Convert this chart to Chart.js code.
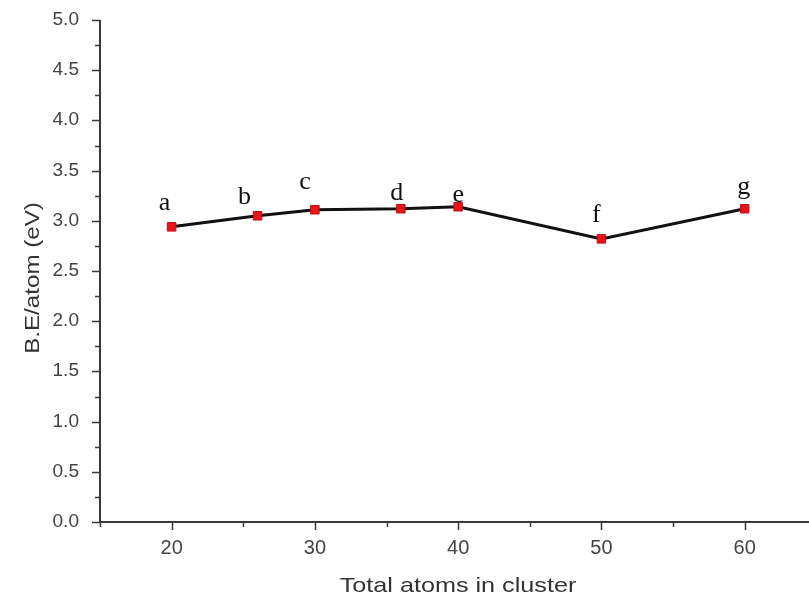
<!DOCTYPE html>
<html lang="en">

<head>
    <meta charset="UTF-8" />
    <script src="https://cdn.jsdelivr.net/npm/chart.js@4.4.0/dist/chart.umd.min.js"></script>
    <title>B.E per atom</title>
    <style>
        html, body { margin: 0; padding: 0; background: #fff; overflow: hidden; }
        canvas { display: block; }
    </style>
</head>

<body>
    <canvas id="chart" width="809" height="601"></canvas>
    <script>
        // values
        let atoms = [20, 26, 30, 36, 40, 50, 60]
        let bindingEnergy = [2.94, 3.05, 3.11, 3.12, 3.14, 2.82, 3.12]
        let pointNames = ['a', 'b', 'c', 'd', 'e', 'f', 'g']
        let xTicks = [20, 30, 40, 50, 60]
        let yTicks = [0, 0.5, 1, 1.5, 2, 2.5, 3, 3.5, 4, 4.5, 5]
        let xTitle = 'Total atoms in cluster'
        let yTitle = 'B.E/atom (eV)'

        // where each letter sits relative to its point
        const nameOffsets = [[-7, -24], [-13, -19], [-10, -28], [-4, -16], [0, -12], [-5, -24], [-1, -22]]

        const axisColor = '#3a3a3a'
        const sans = '"Liberation Sans", Arial, sans-serif'

        // the scanned figure is a bit wider than tall, so text gets stretched sideways
        function stretchedText(ctx, text, x, y, sx, rotate) {
            ctx.save()
            ctx.translate(x, y)
            if (rotate) ctx.rotate(-Math.PI / 2)
            ctx.scale(sx, 1)
            ctx.fillText(text, 0, 0)
            ctx.restore()
        }

        const axesPlugin = {
            id: 'axes',
            afterDraw(chart) {
                const ctx = chart.ctx
                const x = chart.scales.x, y = chart.scales.y
                const area = chart.chartArea
                ctx.save()
                ctx.strokeStyle = axisColor
                ctx.lineWidth = 2
                ctx.beginPath()
                ctx.moveTo(area.left, area.top)
                ctx.lineTo(area.left, area.bottom)
                ctx.lineTo(chart.width, area.bottom)
                ctx.stroke()
                ctx.lineWidth = 1.5
                ctx.beginPath()
                for (let v = 0; v <= 5.001; v += 0.25) {
                    let py = Math.round(y.getPixelForValue(v)) + 0.5
                    let len = (Math.round(v * 4) % 2 === 0) ? 8 : 5
                    ctx.moveTo(area.left, py)
                    ctx.lineTo(area.left - len, py)
                }
                for (let v = 15; v <= x.max; v += 5) {
                    let px = Math.round(x.getPixelForValue(v)) + 0.5
                    let len = (v % 10 === 0) ? 8 : 5
                    ctx.moveTo(px, area.bottom)
                    ctx.lineTo(px, area.bottom + len)
                }
                ctx.stroke()

                // tick labels
                ctx.fillStyle = '#444'
                ctx.textBaseline = 'middle'
                ctx.font = '18px ' + sans
                ctx.textAlign = 'right'
                yTicks.forEach(v => stretchedText(ctx, v.toFixed(1), area.left - 21, y.getPixelForValue(v), 1.06))
                ctx.font = '20px ' + sans
                ctx.textAlign = 'center'
                xTicks.forEach(v => stretchedText(ctx, String(v), x.getPixelForValue(v), area.bottom + 26, 1))

                // axis titles
                ctx.fillStyle = '#333'
                ctx.font = '21px ' + sans
                stretchedText(ctx, xTitle, 458, 586, 1.2)
                stretchedText(ctx, yTitle, 33, 278, 1.15, true)

                // point letters
                const meta = chart.getDatasetMeta(0)
                ctx.fillStyle = '#111'
                ctx.font = '26px "Liberation Serif", "Times New Roman", serif'
                meta.data.forEach((pt, i) => {
                    ctx.fillText(pointNames[i], pt.x + nameOffsets[i][0], pt.y + nameOffsets[i][1])
                })
                ctx.restore()
            }
        }

        let ctx = document.getElementById('chart')
        let myChart = new Chart(ctx, {
            type: 'line',
            data: {
                datasets: [
                    {
                        label: 'B.E/atom',
                        data: atoms.map((a, i) => ({ x: a, y: bindingEnergy[i] })),
                        borderColor: '#111',
                        borderWidth: 3,
                        fill: false,
                        tension: 0,
                        pointStyle: 'rect',
                        pointRadius: 6,
                        pointBackgroundColor: '#e8141b',
                        pointBorderColor: '#c40d12',
                        pointBorderWidth: 1,
                    }
                ]
            },
            options: {
                responsive: false,
                animation: false,
                layout: { padding: { top: 20, right: 0, left: 0, bottom: 0 } },
                plugins: {
                    legend: { display: false },
                    tooltip: { enabled: false },
                },
                scales: {
                    x: {
                        type: 'linear',
                        min: 15,
                        max: 64,
                        afterBuildTicks: (s) => { s.ticks = xTicks.map(v => ({ value: v })) },
                        afterFit: (s) => { s.height = 79 },
                        grid: { display: false, drawTicks: false },
                        border: { display: false },
                        ticks: { display: false },
                    },
                    y: {
                        min: 0,
                        max: 5,
                        afterBuildTicks: (s) => { s.ticks = yTicks.map(v => ({ value: v })) },
                        afterFit: (s) => { s.width = 100 },
                        grid: { display: false, drawTicks: false },
                        border: { display: false },
                        ticks: { display: false },
                    },
                },
            },
            plugins: [axesPlugin],
        })
    </script>
</body>

</html>
